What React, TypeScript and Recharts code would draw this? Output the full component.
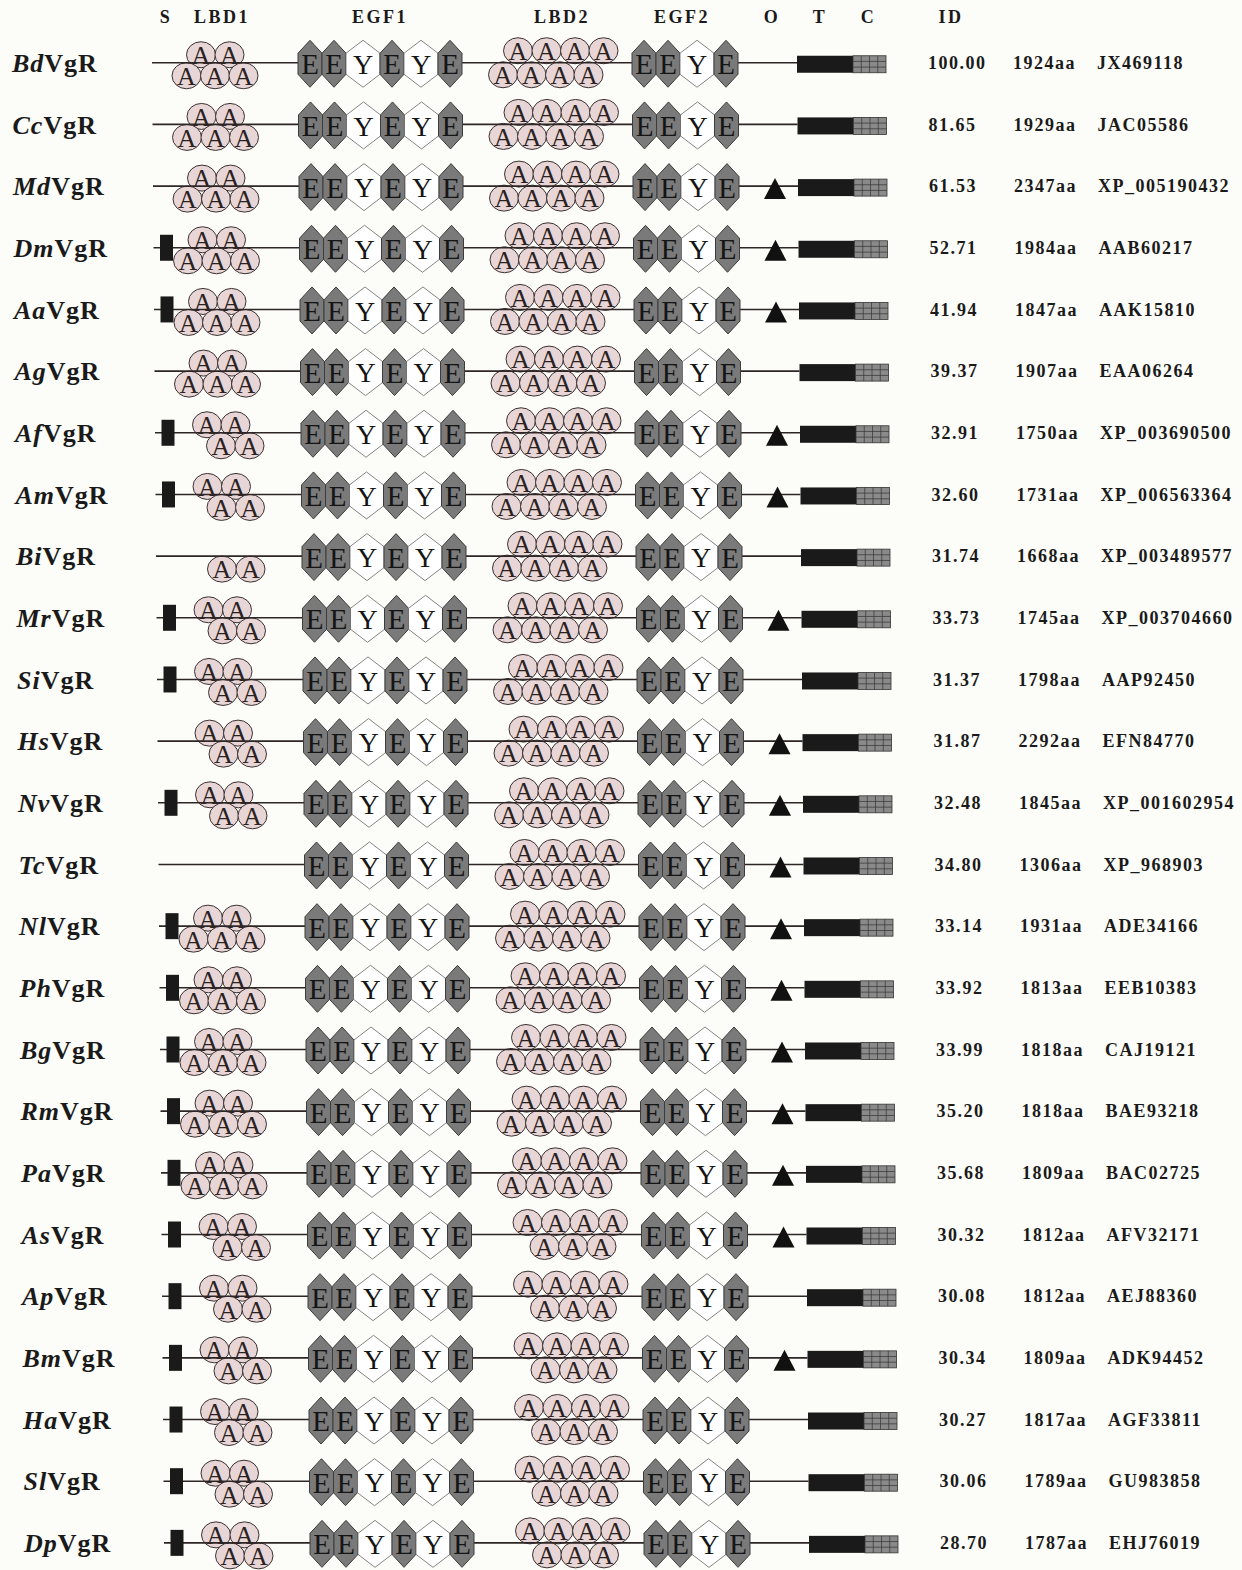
import React from 'react'
import { ScatterChart, Scatter, XAxis, YAxis } from 'recharts'

// one entry per receptor, top to bottom
const species = ['Bd', 'Cc', 'Md', 'Dm', 'Aa', 'Ag', 'Af', 'Am', 'Bi', 'Mr', 'Si', 'Hs', 'Nv', 'Tc', 'Nl', 'Ph', 'Bg', 'Rm', 'Pa', 'As', 'Ap', 'Bm', 'Ha', 'Sl', 'Dp']
const identity = ['100.00', '81.65', '61.53', '52.71', '41.94', '39.37', '32.91', '32.60', '31.74', '33.73', '31.37', '31.87', '32.48', '34.80', '33.14', '33.92', '33.99', '35.20', '35.68', '30.32', '30.08', '30.34', '30.27', '30.06', '28.70']
const lengthAa = [1924, 1929, 2347, 1984, 1847, 1907, 1750, 1731, 1668, 1745, 1798, 2292, 1845, 1306, 1931, 1813, 1818, 1818, 1809, 1812, 1812, 1809, 1817, 1789, 1787]
const accession = ['JX469118', 'JAC05586', 'XP_005190432', 'AAB60217', 'AAK15810', 'EAA06264', 'XP_003690500', 'XP_006563364', 'XP_003489577', 'XP_003704660', 'AAP92450', 'EFN84770', 'XP_001602954', 'XP_968903', 'ADE34166', 'EEB10383', 'CAJ19121', 'BAE93218', 'BAC02725', 'AFV32171', 'AEJ88360', 'ADK94452', 'AGF33811', 'GU983858', 'EHJ76019']
const hasSignal = [0, 0, 0, 1, 1, 0, 1, 1, 0, 1, 1, 0, 1, 0, 1, 1, 1, 1, 1, 1, 1, 1, 1, 1, 1]
const hasO = [0, 0, 1, 1, 1, 0, 1, 1, 0, 1, 0, 1, 1, 1, 1, 1, 1, 1, 1, 1, 0, 1, 0, 0, 0]
const lbd1Top = [2, 2, 2, 2, 2, 2, 2, 2, 0, 2, 2, 2, 2, 0, 2, 2, 2, 2, 2, 2, 2, 2, 2, 2, 2]
const lbd1Bottom = [3, 3, 3, 3, 3, 3, 2, 2, 2, 2, 2, 2, 2, 0, 3, 3, 3, 3, 3, 2, 2, 2, 2, 2, 2]
const lbd2Top = [4, 4, 4, 4, 4, 4, 4, 4, 4, 4, 4, 4, 4, 4, 4, 4, 4, 4, 4, 4, 4, 4, 4, 4, 4]
const lbd2Bottom = [4, 4, 4, 4, 4, 4, 4, 4, 4, 4, 4, 4, 4, 4, 4, 4, 4, 4, 4, 3, 3, 3, 3, 3, 3]
const egf1Modules = ['E', 'E', 'Y', 'E', 'Y', 'E']
const egf2Modules = ['E', 'E', 'Y', 'E']
const headers = ['S', 'LBD1', 'EGF1', 'LBD2', 'EGF2', 'O', 'T', 'C', 'ID']

// layout
const W = 1242
const H = 1570
const LABEL_W = 140
const HEAD_H = 35
const SKEW = 0.5 // rows creep to the right going down, like the original figure
const X = { start: 152, signal: 165, lbd1: 201, egf1: 298, lbd2: 518, egf2: 632, o: 774, t: 797, c: 853, end: 886, id: 928, len: 1013, acc: 1097 }
const HEX_W: Record<string, number> = { E: 24, Y: 34 }
const A_STEP = 28.5
const SERIF = '"Liberation Serif", "Times New Roman", serif'

const rowIdx = species.map((_, i) => i)
const headerX = [X.signal + 1, X.lbd1 + 21, X.egf1 + 82, X.lbd2 + 44, X.egf2 + 50, X.o - 2, (X.t + X.c) / 2 - 5, (X.c + X.end) / 2 - 1, X.id + 23]

const circles: any[] = []
const hexes: any[] = []
const signals: any[] = []
const oSites: any[] = []
const tBlocks: any[] = []
const cBlocks: any[] = []
const texts: any[] = []

rowIdx.forEach((i) => {
  const s = SKEW * i
  // LBD1
  const t1 = lbd1Bottom[i] === 3 ? X.lbd1 : X.lbd1 + 3
  const b1 = lbd1Bottom[i] === 3 ? X.lbd1 - 14.5 : X.lbd1 + 17
  for (let k = 0; k < lbd1Top[i]; k++) circles.push({ x: t1 + s + k * A_STEP, y: i, off: -8 })
  for (let k = 0; k < lbd1Bottom[i]; k++) circles.push({ x: b1 + s + k * A_STEP, y: i, off: 13 })
  // LBD2
  const b2 = lbd2Bottom[i] === 4 ? X.lbd2 - 15 : X.lbd2 + 17
  for (let k = 0; k < lbd2Top[i]; k++) circles.push({ x: X.lbd2 + s + k * A_STEP, y: i, off: -12 })
  for (let k = 0; k < lbd2Bottom[i]; k++) circles.push({ x: b2 + s + k * A_STEP, y: i, off: 12 })
  // EGF repeats
  let px = X.egf1 + s
  egf1Modules.forEach((m) => {
    hexes.push({ x: px + HEX_W[m] / 2, y: i, kind: m })
    px += HEX_W[m]
  })
  px = X.egf2 + s
  egf2Modules.forEach((m) => {
    hexes.push({ x: px + HEX_W[m] / 2, y: i, kind: m })
    px += HEX_W[m]
  })
  if (hasSignal[i]) signals.push({ x: X.signal + s, y: i })
  if (hasO[i]) oSites.push({ x: X.o + s, y: i })
  tBlocks.push({ x: (X.t + X.c) / 2 + s, y: i })
  cBlocks.push({ x: (X.c + X.end) / 2 + s, y: i })
  texts.push({ x: X.id + s, y: i, text: identity[i] })
  texts.push({ x: X.len + s, y: i, text: `${lengthAa[i]}aa` })
  texts.push({ x: X.acc + s, y: i, text: accession[i] })
})

const backbones = rowIdx.map((i) => [
  { x: X.start + SKEW * i, y: i },
  { x: X.t + SKEW * i, y: i },
])

const hexPoints = (cx: number, cy: number, w: number, h: number, k: number) =>
  [
    [cx, cy - h / 2],
    [cx + w / 2, cy - h / 2 + k],
    [cx + w / 2, cy + h / 2 - k],
    [cx, cy + h / 2],
    [cx - w / 2, cy + h / 2 - k],
    [cx - w / 2, cy - h / 2 + k],
  ]
    .map((p) => p.join(','))
    .join(' ')

const AShape = ({ cx, cy, payload }: any) => {
  const y = cy + payload.off
  return (
    <g>
      <ellipse cx={cx} cy={y} rx={14.5} ry={13} fill="#e8d6d6" stroke="#3a3030" strokeWidth={1} />
      <text x={cx} y={y} dy="0.36em" textAnchor="middle" fontFamily={SERIF} fontSize={26} fill="#2a2222">A</text>
    </g>
  )
}

const HexShape = ({ cx, cy, payload }: any) => {
  const isE = payload.kind === 'E'
  const y = cy + 1
  return (
    <g>
      <polygon
        points={hexPoints(cx, y, HEX_W[payload.kind], 47, 13)}
        fill={isE ? '#7a7a7a' : '#ffffff'}
        stroke={isE ? '#3c3c3c' : '#666666'}
        strokeWidth={isE ? 1 : 0.8}
      />
      <text x={cx} y={y} dy="0.36em" textAnchor="middle" fontFamily={SERIF} fontSize={isE ? 29 : 28} fill="#151515">
        {payload.kind}
      </text>
    </g>
  )
}

const SignalShape = ({ cx, cy }: any) => <rect x={cx - 6.5} y={cy - 13} width={13} height={26} fill="#1a1a1a" />

const OShape = ({ cx, cy }: any) => (
  <polygon points={`${cx},${cy - 8} ${cx + 11},${cy + 13} ${cx - 11},${cy + 13}`} fill="#111111" />
)

const TShape = ({ cx, cy }: any) => <rect x={cx - 28} y={cy - 7} width={56} height={17} fill="#1a1a1a" />

const CShape = ({ cx, cy }: any) => {
  const x0 = cx - 16.5
  const y0 = cy - 7
  const w = 33
  const h = 17
  return (
    <g>
      <rect x={x0} y={y0} width={w} height={h} fill="#8a8a8a" stroke="#333333" strokeWidth={0.8} />
      {[1, 2, 3].map((k) => (
        <line key={`v${k}`} x1={x0 + (w * k) / 4} x2={x0 + (w * k) / 4} y1={y0} y2={y0 + h} stroke="#333333" strokeWidth={0.7} />
      ))}
      {[1, 2].map((k) => (
        <line key={`h${k}`} x1={x0} x2={x0 + w} y1={y0 + (h * k) / 3} y2={y0 + (h * k) / 3} stroke="#333333" strokeWidth={0.7} />
      ))}
    </g>
  )
}

const TextShape = ({ cx, cy, payload }: any) => (
  <text x={cx} y={cy} dy="0.35em" fontFamily={SERIF} fontWeight="bold" fontSize={18} letterSpacing={1.5} fill="#1a1a1a">
    {payload.text}
  </text>
)

const SpeciesTick = ({ y, payload }: any) => {
  const i = payload.value
  return (
    <text x={12 + SKEW * i} y={y} dy="0.35em" fontFamily={SERIF} fontWeight="bold" fontSize={26} letterSpacing={1} fill="#1a1a1a">
      <tspan fontStyle="italic">{species[i]}</tspan>VgR
    </text>
  )
}

const HeaderTick = ({ x, index }: any) => (
  <text x={x} y={17} dy="0.35em" textAnchor="middle" fontFamily={SERIF} fontWeight="bold" fontSize={18} letterSpacing={2.5} fill="#1a1a1a">
    {headers[index]}
  </text>
)

const Empty = () => <g />

export default function App() {
  return (
    <div style={{ position: 'absolute', left: 0, top: 0, width: W, height: H, background: '#fcfcf8' }}>
      <ScatterChart width={W} height={H} margin={{ top: 0, right: 0, bottom: 0, left: 0 }}>
        <XAxis
          type="number"
          dataKey="x"
          orientation="top"
          height={HEAD_H}
          domain={[LABEL_W, W]}
          ticks={headerX}
          interval={0}
          axisLine={false}
          tickLine={false}
          tick={HeaderTick}
          allowDataOverflow
        />
        <YAxis
          type="number"
          dataKey="y"
          width={LABEL_W}
          domain={[-0.45, 24.44]}
          reversed
          ticks={rowIdx}
          interval={0}
          axisLine={false}
          tickLine={false}
          tick={SpeciesTick}
          allowDataOverflow
        />
        <Scatter data={circles} shape={AShape} isAnimationActive={false} />
        {backbones.map((d, i) => (
          <Scatter
            key={`bb-${i}`}
            data={d}
            line={{ stroke: '#2e2626', strokeWidth: 1.6 }}
            shape={Empty}
            isAnimationActive={false}
          />
        ))}
        <Scatter data={hexes} shape={HexShape} isAnimationActive={false} />
        <Scatter data={signals} shape={SignalShape} isAnimationActive={false} />
        <Scatter data={oSites} shape={OShape} isAnimationActive={false} />
        <Scatter data={tBlocks} shape={TShape} isAnimationActive={false} />
        <Scatter data={cBlocks} shape={CShape} isAnimationActive={false} />
        <Scatter data={texts} shape={TextShape} isAnimationActive={false} />
      </ScatterChart>
    </div>
  )
}
